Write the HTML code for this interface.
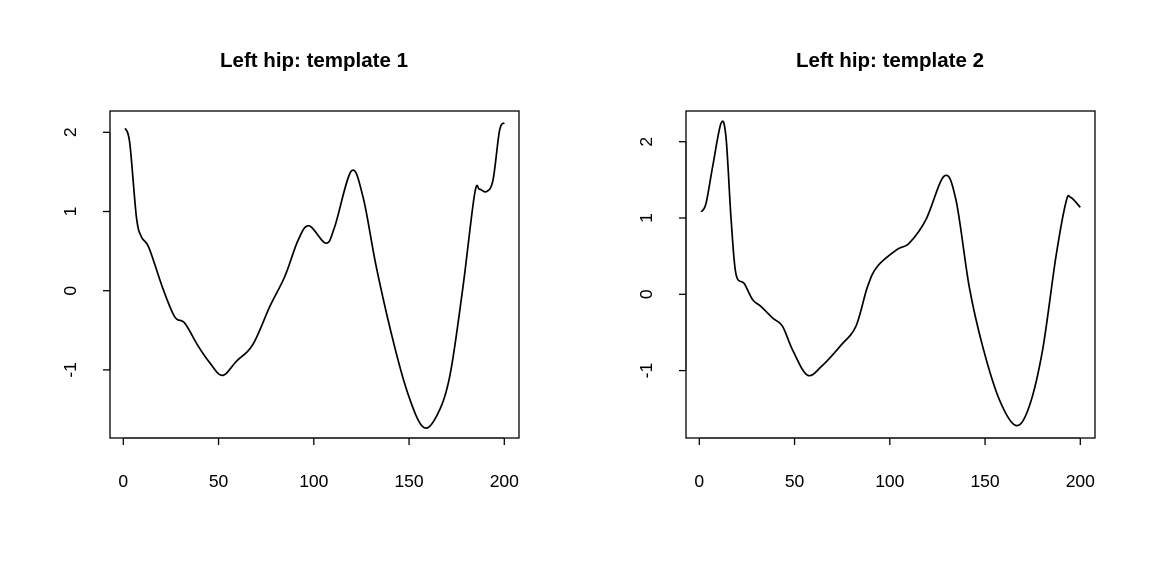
<!DOCTYPE html>
<html><head><meta charset="utf-8"><style>
body{margin:0;background:#fff}
svg text{font-family:"Liberation Sans",Arial,sans-serif;fill:#000}
</style></head><body>
<svg id="c" width="1152" height="576" viewBox="0 0 1152 576"></svg>
<script>
const xTicks=[0,50,100,150,200];
const yTicks1=[-1,0,1,2];
const yTicks2=[-1,0,1,2];
const titles=["Left hip: template 1","Left hip: template 2"];
const xs1=[1,3.4,6.9,9.5,13.5,20.9,27,32.3,39.3,45.4,52,59.4,68,76.9,84.8,91.8,97.5,106.3,111,119.7,125.8,132.8,141.5,149.4,157.3,164.3,171.3,178.3,184.4,187,190.5,194,197.5,200];
const ys1=[2.05,1.86,0.93,0.68,0.54,0.02,-0.33,-0.41,-0.70,-0.91,-1.07,-0.89,-0.68,-0.20,0.18,0.64,0.82,0.6,0.81,1.51,1.19,0.30,-0.62,-1.30,-1.72,-1.59,-1.09,0.05,1.22,1.28,1.25,1.39,2.02,2.12];
const xs2=[1,3.5,7,11.4,14,16.6,19.2,23.6,28,32.4,38.5,43.7,49,56.8,64.7,74.3,82.2,88.3,93.6,104,110.2,119,128.6,134.7,141.7,148.7,157.5,166.2,173.2,180.2,187.2,192.5,195,200];
const ys2=[1.08,1.19,1.67,2.24,2.06,1.02,0.27,0.14,-0.07,-0.16,-0.31,-0.42,-0.73,-1.06,-0.93,-0.67,-0.42,0.10,0.37,0.59,0.67,0.98,1.55,1.24,0.10,-0.68,-1.38,-1.72,-1.47,-0.73,0.49,1.21,1.27,1.14];
const svg=document.getElementById('c');
const NS='http://www.w3.org/2000/svg';
function mk(t,a,p){const e=document.createElementNS(NS,t);for(const k in a)e.setAttribute(k,a[k]);(p||svg).appendChild(e);return e;}
const panels=[
 {box:[110,111,519,438],x0:123.3,x1:504.3,y0:290.7,yk:79.2,yt:yTicks1,xs:xs1,ys:ys1,title:titles[0],cx:314},
 {box:[686,111,1095,438],x0:699.3,x1:1080.3,y0:294.3,yk:76.3,yt:yTicks2,xs:xs2,ys:ys2,title:titles[1],cx:890}
];
panels.forEach((p,i)=>{
 const g=mk('g',{});
 
 
 const X=v=>p.x0+(p.x1-p.x0)*v/200, Y=v=>p.y0-p.yk*v;
 const [l,t,r,b]=p.box;
 const box=mk('rect',{x:l,y:t,width:r-l,height:b-t,fill:'none',stroke:'#000','stroke-width':1.3},g);
 
 
 const tt=mk('text',{x:p.cx,y:67,'text-anchor':'middle','font-size':20.5,'font-weight':'bold'},g);
 tt.textContent=p.title;
 
 
 const xa=mk('g',{},g);
 
 
 mk('line',{x1:X(xTicks[0]),x2:X(xTicks[xTicks.length-1]),y1:b,y2:b,stroke:'#000','stroke-width':1.3},xa);
 xTicks.forEach(v=>{
  mk('line',{x1:X(v),x2:X(v),y1:b,y2:b+7,stroke:'#000','stroke-width':1.3},xa);
  const tx=mk('text',{x:X(v),y:487,'text-anchor':'middle','font-size':17.5},xa);
  tx.textContent=v;
  
  
 });
 const ya=mk('g',{},g);
 
 
 mk('line',{x1:l,x2:l,y1:Y(p.yt[0]),y2:Y(p.yt[p.yt.length-1]),stroke:'#000','stroke-width':1.3},ya);
 p.yt.forEach(v=>{
  mk('line',{x1:l,x2:l-7,y1:Y(v),y2:Y(v),stroke:'#000','stroke-width':1.3},ya);
  const lx=l-34;
  const ty=mk('text',{x:lx,y:Y(v),'text-anchor':'middle','font-size':17.5,transform:`rotate(-90 ${lx} ${Y(v)})`},ya);
  ty.textContent=v<0?'-'+Math.abs(v):v;
  
  
 });
 const P=p.xs.map((x,k)=>[X(x),Y(p.ys[k])]);
 let d='M'+P[0][0].toFixed(1)+','+P[0][1].toFixed(1);
 for(let k=0;k<P.length-1;k++){
  const p0=P[Math.max(k-1,0)],p1=P[k],p2=P[k+1],p3=P[Math.min(k+2,P.length-1)];
  const c1=[p1[0]+(p2[0]-p0[0])/6,p1[1]+(p2[1]-p0[1])/6];
  const c2=[p2[0]-(p3[0]-p1[0])/6,p2[1]-(p3[1]-p1[1])/6];
  d+=`C${c1[0].toFixed(1)},${c1[1].toFixed(1)} ${c2[0].toFixed(1)},${c2[1].toFixed(1)} ${p2[0].toFixed(1)},${p2[1].toFixed(1)}`;
 }
 const ln=mk('path',{d:d,fill:'none',stroke:'#000','stroke-width':1.7},g);
 
 
});
</script>
</body></html>
